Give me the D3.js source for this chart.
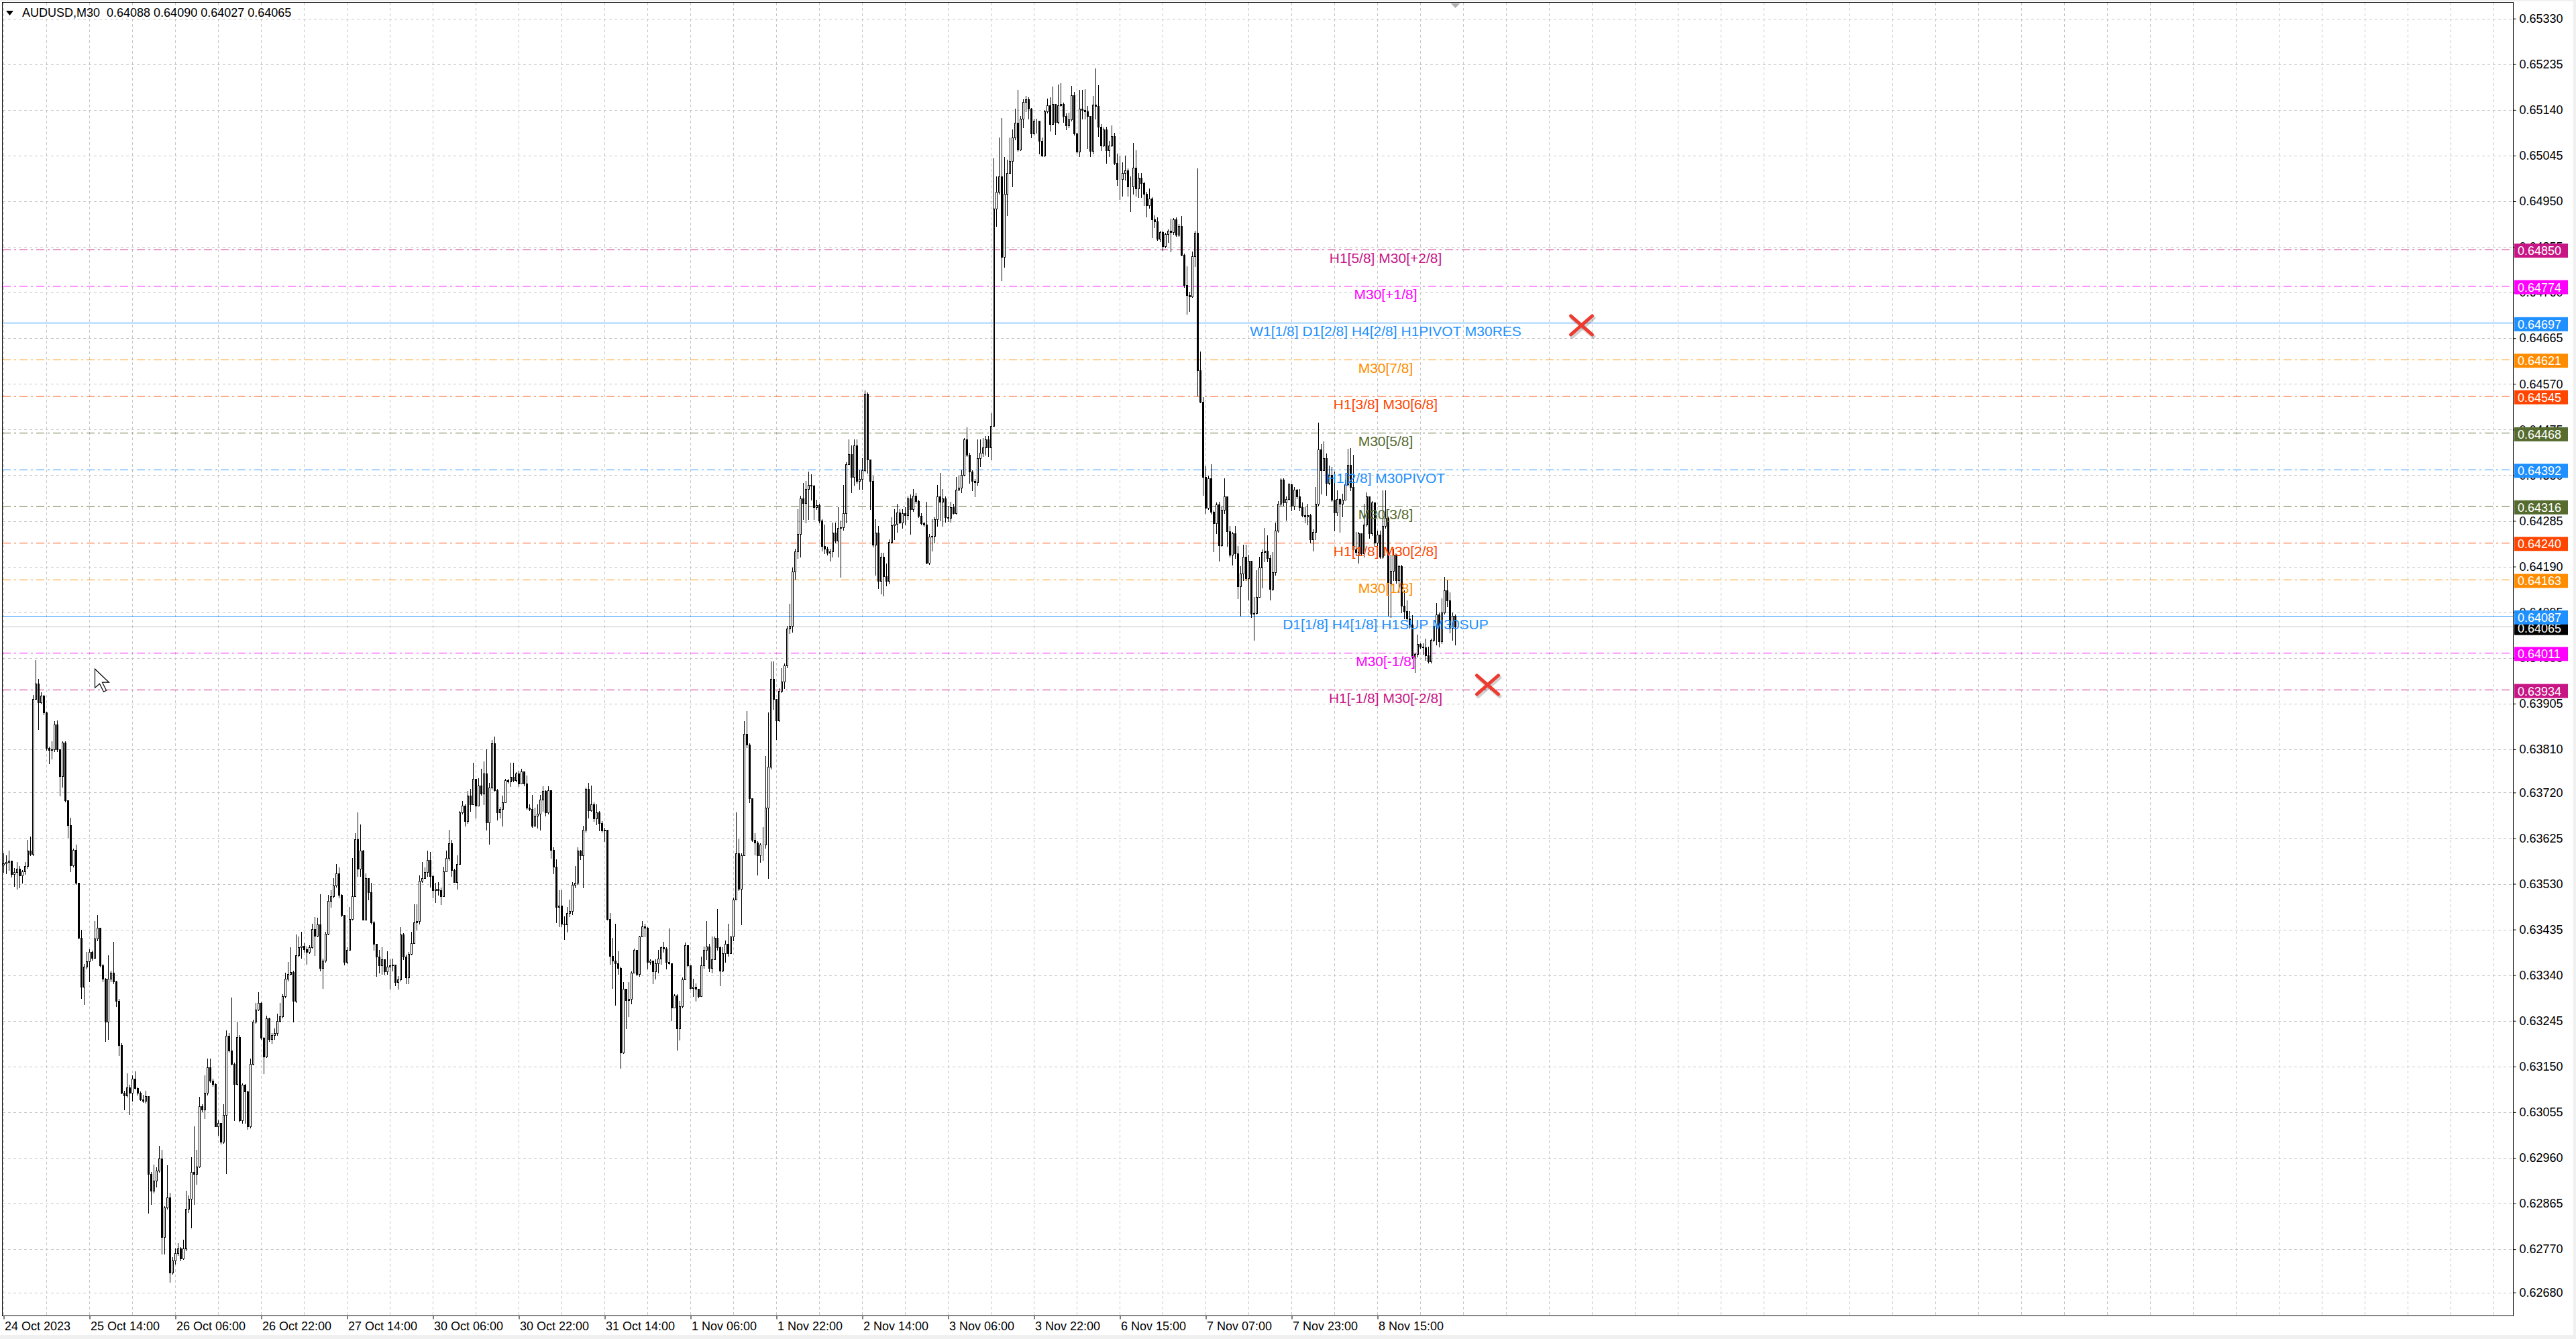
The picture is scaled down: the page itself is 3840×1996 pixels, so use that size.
<!DOCTYPE html>
<html>
<head>
<meta charset="utf-8">
<script src="https://cdnjs.cloudflare.com/ajax/libs/d3/7.8.5/d3.min.js"></script>
<style>
  html, body { margin: 0; padding: 0; background: #ffffff; }
  svg { display: block; }
</style>
</head>
<body>
<svg id="chart" width="3840" height="1996"></svg>
<script>
// AUDUSD M30 bars, prices in points (1 point = 0.00001), open of a bar = previous close
const symbol = "AUDUSD,M30";
const firstOpen = 63570;

const closePts = [
  63572,63576,63578,63550,63554,63561,63548,63556,63567,63599,
  63592,63915,63946,63907,63922,63886,63812,63808,63810,63861,
  63810,63754,63824,63704,63652,63569,63600,63532,63418,63316,
  63358,63369,63389,63376,63416,63438,63361,63332,63243,63332,
  63345,63327,63287,63195,63096,63090,63106,63096,63124,63105,
  63096,63082,63078,63089,62927,62891,62912,62934,62958,62795,
  62857,62878,62722,62747,62762,62771,62750,62771,62854,62875,
  62931,62927,62942,63067,63060,63096,63149,63121,63114,63026,
  63032,62993,63049,63214,63183,63156,63114,63211,63038,63112,
  63098,63025,63155,63243,63269,63283,63210,63171,63250,63207,
  63216,63220,63245,63254,63296,63332,63342,63347,63287,63381,
  63398,63401,63394,63388,63398,63436,63422,63445,63355,63370,
  63426,63494,63504,63527,63551,63507,63465,63368,63393,63457,
  63504,63623,63561,63599,63455,63542,63512,63450,63405,63378,
  63360,63373,63348,63358,63360,63362,63326,63331,63425,63378,
  63336,63384,63407,63450,63452,63537,63542,63555,63579,63546,
  63517,63519,63517,63504,63556,63584,63614,63559,63534,63571,
  63678,63693,63661,63713,63695,63748,63693,63735,63718,63760,
  63658,63730,63822,63725,63678,63685,63700,63745,63743,63752,
  63745,63759,63738,63764,63738,63688,63685,63651,63671,63676,
  63705,63723,63678,63725,63601,63566,63482,63484,63447,63446,
  63470,63474,63528,63532,63599,63589,63643,63728,63683,63695,
  63666,63678,63656,63641,63643,63457,63380,63370,63365,63355,
  63179,63311,63288,63291,63345,63393,63343,63420,63442,63438,
  63368,63370,63348,63365,63375,63398,63395,63368,63365,63273,
  63298,63229,63276,63331,63403,63360,63313,63316,63311,63296,
  63360,63393,63400,63355,63373,63417,63398,63350,63385,63405,
  63385,63420,63497,63594,63519,63589,63842,63819,63708,63621,
  63616,63589,63612,63612,63688,63773,63957,63915,63870,63931,
  63951,63984,64061,64066,64180,64221,64258,64332,64322,64352,
  64360,64358,64313,64318,64286,64233,64227,64219,64221,64260,
  64244,64270,64272,64301,64403,64424,64376,64442,64368,64372,
  64391,64549,64413,64368,64235,64260,64160,64210,64170,64160,
  64241,64276,64279,64303,64282,64301,64297,64332,64309,64338,
  64326,64296,64280,64278,64198,64252,64254,64289,64336,64325,
  64332,64293,64291,64313,64301,64350,64354,64381,64454,64423,
  64387,64368,64365,64416,64427,64438,64455,64438,64483,64934,
  64969,65002,64834,64965,65009,65034,65082,65113,65058,65122,
  65157,65162,65142,65091,65118,65117,65075,65045,65137,65149,
  65111,65153,65115,65149,65153,65127,65107,65120,65171,65091,
  65053,65142,65140,65137,65127,65054,65151,65148,65105,65066,
  65100,65056,65066,65085,65029,64996,64996,65009,65014,64980,
  64980,65020,64976,64999,64987,64965,64942,64956,64912,64908,
  64872,64886,64856,64881,64888,64886,64912,64880,64898,64839,
  64775,64755,64752,64836,64885,64598,64533,64377,64312,64374,
  64304,64280,64319,64234,64308,64336,64263,64214,64259,64217,
  64149,64176,64210,64165,64202,64092,64093,64127,64188,64220,
  64223,64207,64143,64178,64265,64320,64371,64323,64330,64361,
  64316,64350,64336,64313,64297,64294,64297,64246,64262,64320,
  64433,64390,64416,64364,64380,64329,64303,64330,64320,64329,
  64361,64401,64355,64226,64220,64259,64217,64278,64336,64259,
  64323,64239,64257,64210,64275,64291,64156,64181,64214,64162,
  64191,64108,64098,64082,64069,64002,64008,64029,64024,64022,
  64005,63992,64037,64066,64090,64034,64095,64140,64120,64063,
  64088,64065
];

const highPts = [
  63594,63590,63599,63572,63563,63576,63567,63559,63576,63621,
  63628,63923,63996,63957,63928,63923,63888,63815,63826,63868,
  63870,63810,63827,63826,63704,63668,63603,63612,63532,63434,
  63363,63389,63394,63391,63452,63465,63438,63363,63334,63381,
  63349,63409,63329,63290,63198,63100,63136,63112,63131,63140,
  63106,63098,63091,63100,63089,62931,62946,62940,62985,62976,
  62860,62944,62887,62753,62771,62783,62775,62789,62891,62882,
  62962,63025,62976,63087,63071,63131,63167,63167,63124,63115,
  63038,63033,63071,63225,63220,63293,63158,63243,63216,63115,
  63114,63100,63167,63247,63283,63305,63284,63211,63256,63252,
  63220,63229,63260,63283,63300,63345,63367,63398,63349,63425,
  63421,63430,63407,63400,63403,63447,63461,63459,63509,63375,
  63430,63507,63517,63542,63571,63564,63509,63465,63398,63482,
  63584,63636,63678,63653,63601,63551,63542,63532,63452,63405,
  63393,63398,63373,63390,63373,63375,63362,63338,63440,63427,
  63383,63388,63430,63487,63487,63547,63576,63564,63599,63596,
  63549,63532,63534,63522,63566,63599,63643,63621,63561,63589,
  63681,63703,63695,63723,63728,63782,63748,63750,63770,63785,
  63810,63740,63829,63837,63728,63690,63713,63748,63748,63782,
  63782,63762,63765,63770,63757,63755,63695,63715,63688,63695,
  63715,63733,63725,63733,63725,63606,63581,63517,63517,63462,
  63482,63497,63533,63567,63606,63601,63651,63730,63740,63735,
  63700,63695,63681,63661,63646,63641,63470,63417,63447,63390,
  63358,63325,63311,63326,63348,63395,63393,63422,63452,63447,
  63440,63373,63363,63373,63393,63400,63410,63398,63437,63365,
  63301,63301,63286,63336,63408,63403,63360,63333,63323,63311,
  63378,63400,63452,63405,63420,63420,63477,63400,63398,63412,
  63447,63420,63502,63678,63623,63594,63869,63890,63822,63705,
  63636,63618,63614,63648,63796,63886,63993,63992,63915,63937,
  63978,63988,64066,64113,64188,64227,64309,64338,64364,64368,
  64387,64382,64360,64329,64321,64289,64278,64231,64227,64282,
  64282,64313,64286,64360,64407,64455,64442,64454,64454,64391,
  64415,64556,64552,64413,64379,64289,64274,64219,64219,64196,
  64246,64293,64309,64321,64309,64309,64313,64336,64340,64352,
  64343,64329,64301,64283,64325,64258,64289,64293,64360,64385,
  64352,64336,64317,64325,64321,64376,64379,64391,64458,64479,
  64426,64391,64372,64454,64454,64458,64462,64462,64509,65039,
  65002,65083,65123,65042,65036,65082,65100,65142,65182,65127,
  65162,65169,65166,65144,65122,65122,65086,65082,65140,65164,
  65166,65188,65151,65193,65195,65155,65133,65134,65190,65177,
  65093,65182,65182,65183,65148,65127,65169,65226,65191,65111,
  65104,65105,65075,65107,65093,65049,65044,65031,65045,65018,
  65001,65072,65056,65009,65009,64991,64969,64976,64958,64921,
  64916,64888,64888,64885,64892,64914,64915,64916,64903,64919,
  64841,64815,64761,64845,64888,65018,64637,64542,64399,64379,
  64403,64307,64323,64325,64316,64374,64336,64275,64262,64275,
  64233,64191,64236,64236,64214,64172,64127,64182,64210,64226,
  64271,64255,64214,64220,64281,64326,64374,64373,64336,64364,
  64363,64355,64352,64352,64323,64313,64320,64300,64268,64355,
  64490,64445,64451,64425,64400,64397,64387,64348,64332,64342,
  64371,64435,64437,64422,64262,64262,64239,64320,64345,64336,
  64326,64323,64265,64265,64348,64348,64294,64214,64227,64214,
  64194,64194,64140,64120,64098,64089,64011,64048,64031,64031,
  64040,64024,64040,64069,64114,64094,64124,64169,64162,64136,
  64095,64090
];

const lowPts = [
  63554,63551,63559,63545,63525,63519,63523,63532,63550,63563,
  63590,63590,63919,63852,63906,63883,63808,63781,63790,63806,
  63806,63714,63732,63701,63627,63556,63566,63530,63416,63292,
  63280,63354,63327,63372,63376,63412,63358,63327,63203,63207,
  63327,63323,63276,63173,63094,63060,63087,63051,63078,63103,
  63091,63080,63076,63074,62845,62864,62887,62900,62931,62760,
  62760,62854,62702,62718,62740,62758,62747,62749,62768,62847,
  62815,62864,62906,62940,63056,63042,63091,63118,63109,63025,
  63007,62989,62991,62928,63180,63154,63038,63112,63035,63033,
  63033,63020,63023,63154,63240,63267,63207,63136,63169,63203,
  63198,63207,63216,63243,63252,63293,63329,63341,63243,63284,
  63379,63376,63389,63363,63385,63397,63381,63421,63350,63313,
  63368,63425,63482,63502,63524,63502,63462,63362,63365,63393,
  63455,63504,63546,63546,63455,63477,63497,63447,63393,63338,
  63345,63343,63343,63343,63311,63350,63318,63311,63328,63373,
  63323,63323,63383,63412,63435,63447,63534,63542,63546,63524,
  63502,63492,63507,63487,63504,63556,63579,63546,63534,63519,
  63571,63676,63651,63656,63681,63695,63668,63693,63715,63695,
  63643,63613,63728,63723,63663,63668,63651,63700,63740,63733,
  63743,63743,63733,63738,63735,63685,63683,63648,63651,63646,
  63643,63681,63671,63676,63584,63551,63450,63442,63442,63415,
  63430,63462,63467,63522,63529,63581,63522,63638,63668,63681,
  63661,63653,63641,63638,63618,63455,63363,63313,63278,63343,
  63147,63177,63229,63254,63281,63345,63340,63338,63420,63420,
  63353,63363,63323,63333,63345,63363,63388,63353,63363,63246,
  63273,63184,63206,63273,63331,63358,63311,63296,63286,63293,
  63296,63355,63373,63348,63345,63373,63393,63318,63348,63368,
  63380,63385,63412,63499,63517,63445,63591,63814,63700,63618,
  63591,63549,63576,63580,63604,63542,63769,63894,63831,63868,
  63929,63937,63980,64051,64054,64164,64207,64211,64289,64282,
  64289,64329,64289,64309,64282,64223,64217,64215,64202,64211,
  64239,64211,64168,64266,64282,64403,64344,64360,64364,64352,
  64352,64387,64385,64309,64231,64172,64145,64134,64129,64150,
  64155,64238,64247,64262,64280,64270,64278,64289,64258,64305,
  64322,64293,64278,64274,64196,64195,64223,64239,64274,64286,
  64274,64283,64285,64283,64299,64299,64348,64344,64379,64419,
  64364,64348,64336,64360,64399,64419,64423,64419,64413,64482,
  64899,64965,64786,64813,64921,65009,64980,65078,65054,65056,
  65104,65137,65122,65082,65088,65093,65049,65044,65044,65134,
  65096,65111,65089,65112,65148,65115,65100,65104,65118,65088,
  65051,65044,65122,65122,65060,65043,65049,65122,65085,65056,
  65064,65029,65044,65064,65027,64983,64954,64961,64994,64961,
  64929,64965,64961,64959,64959,64942,64918,64936,64874,64896,
  64869,64866,64848,64854,64865,64845,64881,64877,64877,64837,
  64772,64715,64721,64750,64815,64545,64531,64339,64301,64309,
  64300,64222,64259,64202,64232,64301,64233,64210,64194,64207,
  64124,64088,64162,64162,64121,64085,64037,64092,64127,64146,
  64201,64201,64121,64140,64172,64262,64316,64316,64287,64329,
  64307,64310,64332,64307,64294,64281,64278,64239,64223,64246,
  64318,64342,64406,64339,64361,64326,64265,64297,64262,64294,
  64329,64358,64348,64223,64214,64198,64214,64210,64275,64249,
  64255,64233,64226,64207,64207,64271,64088,64085,64162,64156,
  64137,64095,64082,64079,64063,63999,63970,64002,64021,64008,
  63995,63990,63990,64034,64028,64024,64031,64092,64107,64053,
  64037,64027
];

// right price scale labels
const priceTicks = [
  "0.65330","0.65235","0.65140","0.65045","0.64950","0.64855","0.64760","0.64665",
  "0.64570","0.64475","0.64380","0.64285","0.64190","0.64095","0.64000","0.63905",
  "0.63810","0.63720","0.63625","0.63530","0.63435","0.63340","0.63245","0.63150",
  "0.63055","0.62960","0.62865","0.62770","0.62680"
];

// time scale labels (bar index -> label)
const dateTickBars = [0, 32, 64, 96, 128, 160, 192, 224, 256, 288, 320, 352, 384, 416, 448, 480, 512];
const dateLabels = [
  "24 Oct 2023", "25 Oct 14:00", "26 Oct 06:00", "26 Oct 22:00", "27 Oct 14:00",
  "30 Oct 06:00", "30 Oct 22:00", "31 Oct 14:00", "1 Nov 06:00", "1 Nov 22:00",
  "2 Nov 14:00", "3 Nov 06:00", "3 Nov 22:00", "6 Nov 15:00", "7 Nov 07:00",
  "7 Nov 23:00", "8 Nov 15:00"
];

// murrey math levels
const levelPrices = [0.64850, 0.64774, 0.64697, 0.64621, 0.64545, 0.64468, 0.64392,
                     0.64316, 0.64240, 0.64163, 0.64087, 0.64011, 0.63934];
const levelNames = [
  "H1[5/8] M30[+2/8]", "M30[+1/8]", "W1[1/8] D1[2/8] H4[2/8] H1PIVOT M30RES",
  "M30[7/8]", "H1[3/8] M30[6/8]", "M30[5/8]", "H1[2/8] M30PIVOT", "M30[3/8]",
  "H1[1/8] M30[2/8]", "M30[1/8]", "D1[1/8] H4[1/8] H1SUP M30SUP", "M30[-1/8]",
  "H1[-1/8] M30[-2/8]"
];
const levelLabelBar = 515;

// red cross markers
const markerBars = [588, 553];
const markerPrices = [0.64692, 0.63944];

// ---- styles
const levelColors = ["#c71585", "#ff00ff", "#1e90ff", "#ff8c00", "#ff4500", "#556b2f", "#1e90ff",
                     "#556b2f", "#ff4500", "#ff8c00", "#1e90ff", "#ff00ff", "#c71585"];
const levelSolid = [false, false, true, false, false, false, false, false, false, false, true, false, false];
const font = "'Liberation Sans', Arial, sans-serif";

const W = 3840, H = 1996;
const plotL = 4, plotT = 4, plotR = 3746, plotB = 1961;

const svg = d3.select('#chart');

let x = d3.scaleLinear()
    .domain([0, 541])
    .range([5.5, 5.5 + 4 * 541]);

let y = d3.scaleLinear()
    .domain([0.62680, 0.65330])
    .range([1926.6, 27.7]);

const crisp = v => Math.round(v) + 0.5;

// window background
svg.append('rect').attr('width', W).attr('height', H).attr('fill', '#f0f0f0');
svg.append('rect').attr('x', 0).attr('y', 2).attr('width', W - 4).attr('height', H - 8).attr('fill', '#ffffff');

// grid
let grid = svg.append('g').attr('stroke', '#c6c6c6').attr('stroke-width', 1).attr('stroke-dasharray', '4,4');
grid.selectAll('.hg')
    .data(priceTicks)
    .enter()
    .append('line')
    .attr('x1', plotL).attr('x2', plotR)
    .attr('y1', d => crisp(y(+d))).attr('y2', d => crisp(y(+d)));
grid.selectAll('.vg')
    .data(d3.range(0, 960, 16).filter(b => x(b) < plotR))
    .enter()
    .append('line')
    .attr('x1', d => x(d)).attr('x2', d => x(d))
    .attr('y1', plotT).attr('y2', plotB);

// bid line
const lastClose = closePts[closePts.length - 1] / 1e5;
svg.append('line')
    .attr('x1', plotL).attr('x2', plotR)
    .attr('y1', crisp(y(lastClose))).attr('y2', crisp(y(lastClose)))
    .attr('stroke', '#c0c0c0').attr('stroke-width', 1);

// level lines
svg.append('g').selectAll('line')
    .data(levelPrices)
    .enter()
    .append('line')
    .attr('x1', plotL).attr('x2', plotR)
    .attr('y1', d => crisp(y(d))).attr('y2', d => crisp(y(d)))
    .attr('stroke', (d, i) => levelColors[i])
    .attr('stroke-width', 1)
    .attr('stroke-dasharray', (d, i) => levelSolid[i] ? null : '12,5,3,5');

// candles
const bars = closePts.map((c, i) => ({
  i: i,
  o: (i === 0 ? firstOpen : closePts[i - 1]) / 1e5,
  h: highPts[i] / 1e5,
  l: lowPts[i] / 1e5,
  c: c / 1e5
}));

let candles = svg.append('g').attr('shape-rendering', 'crispEdges');
candles.selectAll('.wick')
    .data(bars)
    .enter()
    .append('line')
    .attr('x1', d => x(d.i)).attr('x2', d => x(d.i))
    .attr('y1', d => Math.round(y(Math.max(d.h, d.o, d.c))))
    .attr('y2', d => Math.round(y(Math.min(d.l, d.o, d.c))) + 1)
    .attr('stroke', '#000').attr('stroke-width', 1);
candles.selectAll('.body')
    .data(bars)
    .enter()
    .append('rect')
    .attr('x', d => x(d.i) - 1)
    .attr('width', 2)
    .attr('y', d => crisp(y(Math.max(d.o, d.c))))
    .attr('height', d => Math.max(Math.round(y(Math.min(d.o, d.c))) - Math.round(y(Math.max(d.o, d.c))), 0))
    .attr('fill', d => d.c >= d.o ? '#ffffff' : '#000000')
    .attr('stroke', '#000').attr('stroke-width', 1);

// level labels
svg.append('g').selectAll('text')
    .data(levelNames)
    .enter()
    .append('text')
    .attr('x', x(levelLabelBar))
    .attr('y', (d, i) => y(levelPrices[i]) + 20)
    .attr('text-anchor', 'middle')
    .attr('font-family', font)
    .attr('font-size', '21px')
    .attr('fill', (d, i) => levelColors[i])
    .text(d => d);

// red crosses
let marks = svg.append('g');
const crossArms = [[-16, -14, 16, 14], [-16, 14, 16, -14]];
markerBars.forEach((b, i) => {
  const cx = x(b), cy = y(markerPrices[i]);
  crossArms.forEach(s => {
    marks.append('line')
      .attr('x1', cx + s[0] + 2).attr('y1', cy + s[1] + 3).attr('x2', cx + s[2] + 2).attr('y2', cy + s[3] + 3)
      .attr('stroke', '#000').attr('stroke-opacity', 0.18).attr('stroke-width', 6).attr('stroke-linecap', 'round');
  });
  crossArms.forEach(s => {
    marks.append('line')
      .attr('x1', cx + s[0]).attr('y1', cy + s[1]).attr('x2', cx + s[2]).attr('y2', cy + s[3])
      .attr('stroke', '#ee3b30').attr('stroke-width', 5).attr('stroke-linecap', 'round');
  });
});

// mouse pointer left on the chart
const curX = x(34), curY = y(0.63977);
svg.append('path')
    .attr('d', `M${curX},${curY} l0,28 l7,-6 l6,12 l4,-2 l-6,-12 l10,0 z`)
    .attr('fill', '#ffffff').attr('stroke', '#000').attr('stroke-width', 1.2);

// chart frame
svg.append('rect')
    .attr('x', plotL - 0.5).attr('y', plotT - 0.5)
    .attr('width', plotR - plotL + 1).attr('height', plotB - plotT + 1)
    .attr('fill', 'none').attr('stroke', '#000').attr('stroke-width', 1);

// shift marker at the top
const sx = x(541);
svg.append('path')
    .attr('d', `M${sx - 7},${plotT + 1} L${sx + 7},${plotT + 1} L${sx},${plotT + 8} Z`)
    .attr('fill', '#b0b0b0');

// price axis
let yAxis = d3.axisRight(y)
    .tickValues(priceTicks.map(Number))
    .tickFormat((d, i) => priceTicks[i])
    .tickSize(4)
    .tickPadding(5);
svg.append('g')
    .attr('transform', `translate(${plotR + 0.5}, 0)`)
    .call(yAxis)
    .call(g => g.select('.domain').remove())
    .call(g => g.selectAll('line').attr('stroke', '#000'))
    .call(g => g.selectAll('text').attr('font-family', font).attr('font-size', '18px').attr('fill', '#000'));

// time axis
let xAxis = d3.axisBottom(x)
    .tickValues(dateTickBars)
    .tickFormat((d, i) => dateLabels[i])
    .tickSize(5)
    .tickPadding(4);
svg.append('g')
    .attr('transform', `translate(0, ${plotB + 0.5})`)
    .call(xAxis)
    .call(g => g.select('.domain').remove())
    .call(g => g.selectAll('line').attr('stroke', '#000'))
    .call(g => g.selectAll('text')
        .attr('text-anchor', 'start')
        .attr('x', 1)
        .attr('font-family', font).attr('font-size', '18px').attr('fill', '#000'));

// price tags on the right scale
let tags = svg.append('g');
const tag = (price, color) => {
  const cy = y(price) + 2;
  tags.append('rect')
    .attr('x', plotR + 2).attr('y', cy - 10.5).attr('width', 80).attr('height', 21)
    .attr('fill', color);
  tags.append('text')
    .attr('x', plotR + 7).attr('y', cy).attr('dy', '0.36em')
    .attr('font-family', font).attr('font-size', '18px').attr('fill', '#ffffff')
    .text(price.toFixed(5));
};
tag(lastClose, '#000000');
levelPrices.forEach((p, i) => tag(p, levelColors[i]));

// header
const lastBar = bars[bars.length - 1];
svg.append('path').attr('d', 'M9,16 L20,16 L14.5,23 Z').attr('fill', '#000');
svg.append('text')
    .attr('x', 33).attr('y', 25)
    .attr('font-family', font).attr('font-size', '18px').attr('fill', '#000')
    .style('white-space', 'pre')
    .text(`${symbol}  ${lastBar.o.toFixed(5)} ${lastBar.h.toFixed(5)} ${lastBar.l.toFixed(5)} ${lastBar.c.toFixed(5)}`);
</script>
</body>
</html>
